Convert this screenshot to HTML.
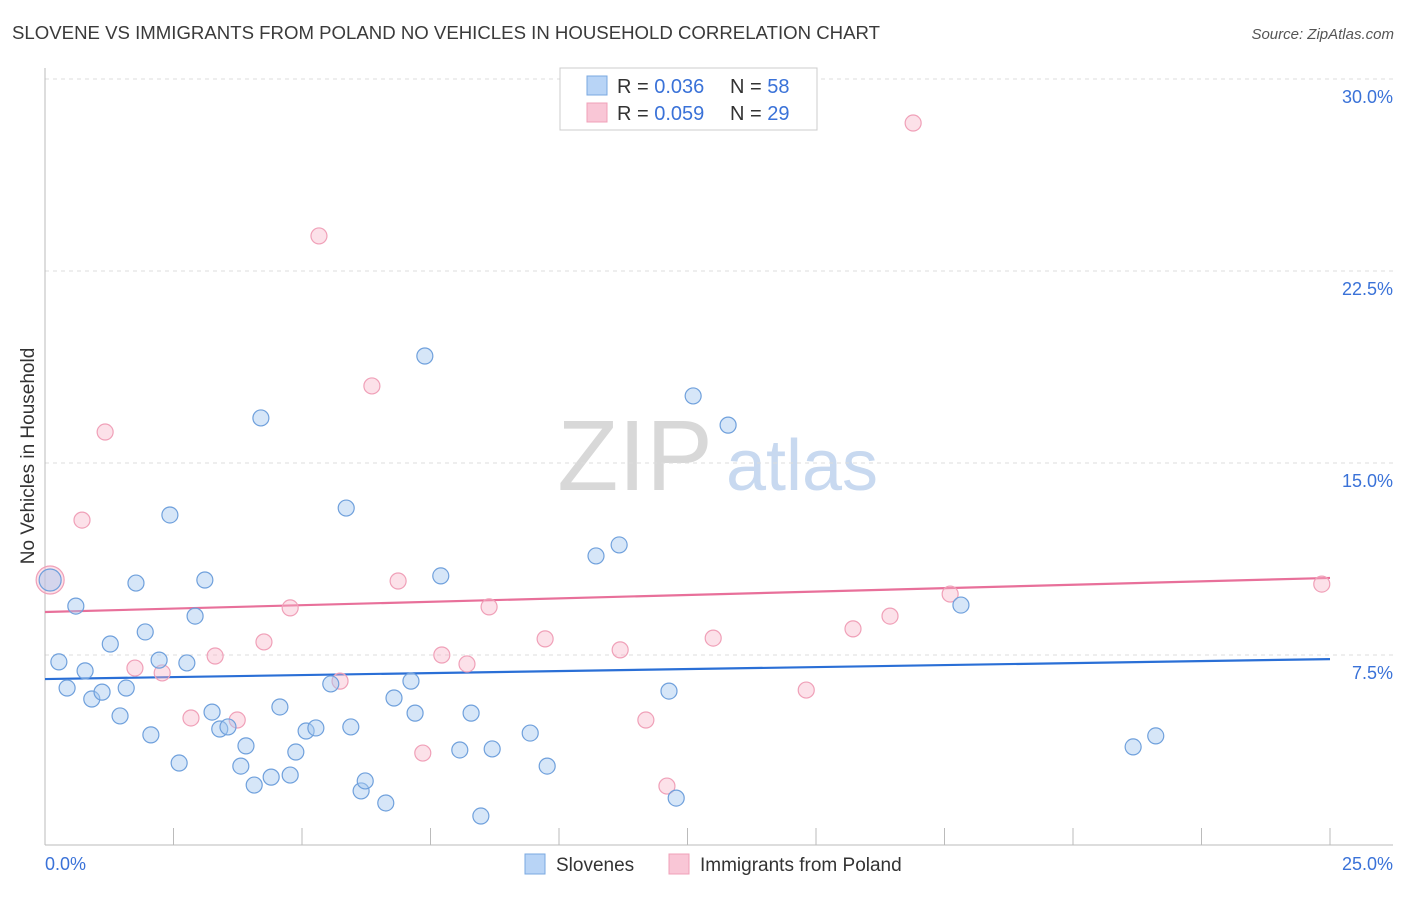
<!DOCTYPE html>
<html><head><meta charset="utf-8"><style>
body{margin:0;background:#fff;font-family:"Liberation Sans",sans-serif}
svg text{font-family:"Liberation Sans",sans-serif}
</style></head><body>
<svg id="chart" width="1406" height="892" xmlns="http://www.w3.org/2000/svg">
<text x="12" y="39" font-size="18" fill="#3a3a3a" textLength="868" lengthAdjust="spacingAndGlyphs">SLOVENE VS IMMIGRANTS FROM POLAND NO VEHICLES IN HOUSEHOLD CORRELATION CHART</text>
<text x="1394" y="39" font-size="15" fill="#555" font-style="italic" text-anchor="end">Source: ZipAtlas.com</text>
<text transform="translate(34,456) rotate(-90)" font-size="19" fill="#333" text-anchor="middle">No Vehicles in Household</text>
<g>
<text x="635" y="490" font-size="100" fill="#d8d8d8" font-family="Liberation Serif" text-anchor="middle">ZIP</text>
<text x="802" y="490" font-size="72" fill="#c8d9f0" text-anchor="middle">atlas</text>
</g>
<g id="grid"></g><g id="axes"></g><g id="trend"></g><g id="points"></g>
<g>
<rect x="560" y="68" width="257" height="62" fill="#fff" stroke="#ccc"/>
<rect x="587" y="76" width="20" height="19" fill="#b8d4f6" stroke="#7aa8e0"/>
<rect x="587" y="103" width="20" height="19" fill="#f9c6d6" stroke="#f0a0b8"/>
<text x="617" y="93" font-size="20" fill="#333">R = <tspan fill="#3a72d8">0.036</tspan></text>
<text x="730" y="93" font-size="20" fill="#333">N = <tspan fill="#3a72d8">58</tspan></text>
<text x="617" y="120" font-size="20" fill="#333">R = <tspan fill="#3a72d8">0.059</tspan></text>
<text x="730" y="120" font-size="20" fill="#333">N = <tspan fill="#3a72d8">29</tspan></text>
</g>
<g>
<rect x="525" y="854" width="20" height="20" fill="#b8d4f6" stroke="#7aa8e0"/>
<text x="556" y="871" font-size="19" fill="#333">Slovenes</text>
<rect x="669" y="854" width="20" height="20" fill="#f9c6d6" stroke="#f0a0b8"/>
<text x="700" y="871" font-size="19" fill="#333">Immigrants from Poland</text>
</g>
</svg>
<script>
const blueX=[0.10,0.27,0.43,0.60,0.78,0.91,1.11,1.27,1.46,1.58,1.77,1.95,2.06,2.22,2.43,2.61,2.76,2.92,3.11,3.25,3.40,3.56,3.81,3.91,4.07,4.20,4.40,4.57,4.77,4.88,5.08,5.27,5.56,5.86,5.95,6.15,6.23,6.63,6.79,7.12,7.20,7.39,7.70,8.07,8.29,8.48,8.70,9.44,9.77,10.72,11.17,12.14,12.28,12.61,13.29,17.82,21.17,21.61];
const blueY=[10.43,7.23,6.21,9.41,6.88,5.78,6.05,7.93,5.12,6.21,10.31,8.40,4.38,7.30,12.97,3.28,7.19,9.02,10.43,5.27,4.61,4.69,3.16,3.95,2.42,16.76,2.73,5.47,2.81,3.71,4.53,4.65,6.37,13.24,4.69,2.19,2.58,1.72,5.82,6.48,5.23,19.18,10.59,3.79,5.23,1.21,3.83,4.45,3.16,11.37,11.80,6.09,1.91,17.62,16.48,9.45,3.91,4.34];
const pinkX=[0.10,0.72,1.17,1.75,2.28,2.84,3.31,3.74,4.26,4.77,5.33,5.74,6.36,6.87,7.35,7.72,8.21,8.64,9.73,11.19,11.69,12.10,13.00,14.81,15.72,16.44,16.89,17.61,24.84];
const pinkY=[10.43,12.77,16.21,6.99,6.80,5.04,7.46,4.96,8.01,9.34,23.87,6.48,18.01,10.39,3.67,7.50,7.15,9.38,8.13,7.70,4.96,2.38,8.16,6.13,8.52,9.02,28.28,9.88,10.27];
const blueTrend=[6.56,7.34];
const pinkTrend=[9.18,10.51];
const yTicks=[7.5,15,22.5,30];
const xTicks=[0,2.5,5,7.5,10,12.5,15,17.5,20,22.5,25];
const NS="http://www.w3.org/2000/svg";
const sx=v=>45+v*51.4, sy=v=>847-v*25.6;
function mk(t,a,p){const e=document.createElementNS(NS,t);for(const k in a)e.setAttribute(k,a[k]);document.getElementById(p).appendChild(e);return e;}
yTicks.forEach(v=>{
 const l=mk('line',{x1:45,x2:1393,y1:sy(v),y2:sy(v),stroke:'#ddd','stroke-dasharray':'4,4'},'grid');
 
 
 const t=mk('text',{x:1393,y:sy(v)+24,'font-size':18,fill:'#3a72d8','text-anchor':'end'},'grid');
 t.textContent=v.toFixed(1)+'%';
 
 
});
const ax1=mk('line',{x1:45,x2:45,y1:68,y2:845,stroke:'#bbb'},'axes');


const ax2=mk('line',{x1:45,x2:1393,y1:845,y2:845,stroke:'#bbb'},'axes');


xTicks.forEach(v=>{
 const l=mk('line',{x1:sx(v),x2:sx(v),y1:828,y2:845,stroke:'#bbb'},'axes');
 
 
});
[[0,'start','0.0%'],[25,'end','25.0%']].forEach(([v,a,s])=>{
 const t=mk('text',{x:v==0?45:1393,y:870,'font-size':18,fill:'#3a72d8','text-anchor':a},'axes');
 t.textContent=s;
 
 
});
const bl=mk('line',{x1:sx(0),x2:sx(25),y1:sy(blueTrend[0]),y2:sy(blueTrend[1]),stroke:'#2a6fd6','stroke-width':2.2},'trend');


const pl=mk('line',{x1:sx(0),x2:sx(25),y1:sy(pinkTrend[0]),y2:sy(pinkTrend[1]),stroke:'#e8709a','stroke-width':2.2},'trend');


pinkX.forEach((x,i)=>{
 const c=mk('circle',{cx:sx(x),cy:sy(pinkY[i]),r:i==0?14:8,fill:'rgba(248,180,200,0.4)',stroke:'#f0a0b8','stroke-width':1.2},'points');
 
 
});
blueX.forEach((x,i)=>{
 const c=mk('circle',{cx:sx(x),cy:sy(blueY[i]),r:i==0?11:8,fill:'rgba(164,200,240,0.45)',stroke:'#6fa0dc','stroke-width':1.2},'points');
 
 
});
</script>
</body></html>
